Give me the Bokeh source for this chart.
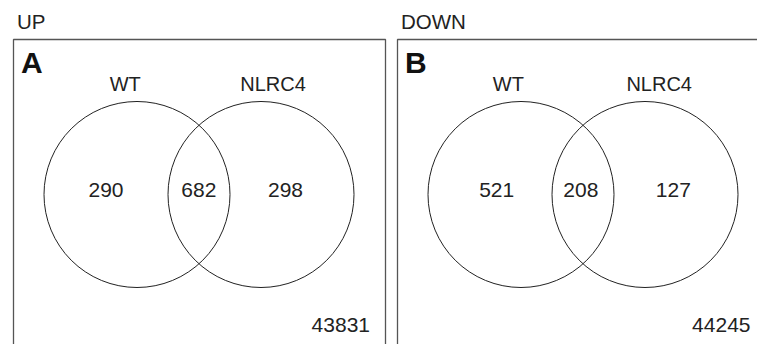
from bokeh.plotting import figure
from bokeh.models import Range1d
from bokeh.embed import file_html
from bokeh.resources import INLINE
from bokeh.core.properties import value

# ---- data ----
panel_titles = ["UP", "DOWN"]
panel_letters = ["A", "B"]
set_names = ["WT", "NLRC4"]
only_wt = [290, 521]
shared = [682, 208]
only_nlrc4 = [298, 127]
background = [43831, 44245]

# ---- layout (pixel coordinates) ----
W, H = 757, 344
FONT = "Liberation Sans"
panel_x0 = [13, 397]
box_w = 372
box_top = 39
circ_cy = 194
circ_r = 93
circ_dx = [123.5, 247.5]          # circle centre offsets from box left
name_dx = [[111.7, 259.5], [110.8, 261.7]]
num_dx = [[92.5, 185.3, 272.0], [99.2, 183.3, 275.8]]
total_dx = [327.3, 323.8]


def by(y, size):
    # baseline correction, proportional to font size
    return y - 0.35 * size


p = figure(width=W, height=H, output_backend="svg", toolbar_location=None,
           x_range=Range1d(0, W), y_range=Range1d(H, 0),
           min_border=0, background_fill_color="white")
p.axis.visible = False
p.grid.visible = False
p.outline_line_color = None

for i in range(2):
    x0 = panel_x0[i]
    # panel box (open at the bottom, beyond the page)
    p.quad(left=[x0], right=[x0 + box_w], top=[box_top], bottom=[400],
           fill_color=None, line_color="#555555", line_width=1.3)
    # circles
    p.circle(x=[x0 + d for d in circ_dx], y=[circ_cy, circ_cy], radius=circ_r,
             fill_color=None, line_color="#222222", line_width=1)
    # title above panel
    p.text(x=[x0 + 3.5], y=[by(28.3, 20.5)], text=[panel_titles[i]], text_font=value(FONT),
           text_font_size="20.5px", text_color="#222222", text_align="left",
           text_baseline="alphabetic")
    # panel letter
    p.text(x=[x0 + 7.5], y=[by(72.7, 30)], text=[panel_letters[i]], text_font=value(FONT),
           text_font_size="30px", text_font_style="bold", text_color="#111111",
           text_align="left", text_baseline="alphabetic")
    # set names
    p.text(x=[x0 + d for d in name_dx[i]], y=[by(90, 20)] * 2, text=set_names,
           text_font=value(FONT), text_font_size="20px", text_color="#222222",
           text_align="center", text_baseline="alphabetic")
    # region counts
    counts = [str(only_wt[i]), str(shared[i]), str(only_nlrc4[i])]
    p.text(x=[x0 + d for d in num_dx[i]], y=[by(196.7, 21)] * 3, text=counts,
           text_font=value(FONT), text_font_size="21px", text_color="#222222",
           text_align="center", text_baseline="alphabetic")
    # background total
    p.text(x=[x0 + total_dx[i]], y=[by(331.7, 21)], text=[str(background[i])],
           text_font=value(FONT), text_font_size="21px", text_color="#222222",
           text_align="center", text_baseline="alphabetic")

open("out.html", "w").write(file_html(p, INLINE))
